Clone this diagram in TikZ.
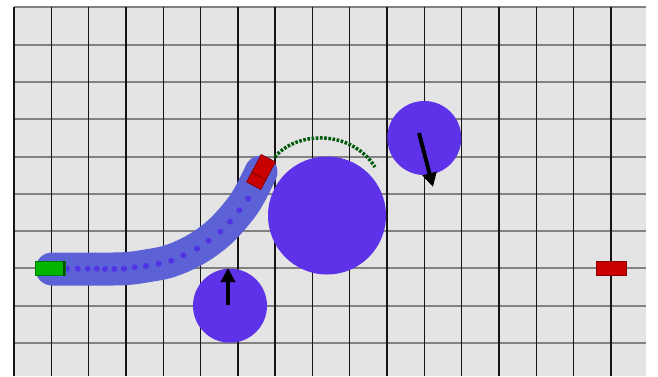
\documentclass[tikz,border=0pt]{standalone}
\usetikzlibrary{arrows.meta,calc}
\definecolor{bgc}{RGB}{228,228,228}
\definecolor{vline}{RGB}{20,20,20}
\definecolor{hline}{RGB}{130,130,130}
\definecolor{obst}{RGB}{93,50,233}
\definecolor{tubec}{RGB}{92,98,214}
\definecolor{dotc}{RGB}{80,52,228}
\definecolor{arcg}{RGB}{0,90,10}
\definecolor{carg}{RGB}{0,180,0}
\definecolor{carr}{RGB}{200,0,0}
\begin{document}
\begin{tikzpicture}[x=1pt,y=-1pt,
  obstacle/.style={fill=obst},
  bigarrow/.style={line width=4pt,-{Triangle[length=14pt,width=14pt]}},
  pathdot/.style={fill=dotc},
  carbox/.style={draw=#1!70!black,fill=#1,line width=0.8pt,minimum width=30pt,minimum height=14pt,inner sep=0pt}]
\useasboundingbox (0,0) rectangle (658,376);
\fill[bgc] (14,7.3) rectangle (646,376);
% grid
\foreach \k in {0,...,9}{
  \draw[hline,line width=2pt] (14,{7.3+37.3*\k}) -- (646,{7.3+37.3*\k});
}
\foreach \k in {0,...,16}{
  \draw[vline,line width=1.4pt] ({14+37.3*\k},7.3) -- ({14+37.3*\k},376);
}
% swept tube
\draw[tubec,line width=33pt,line cap=round,line join=round]
  plot[smooth,tension=0.6] coordinates {(52,269) (90,269) (124,268.7) (146,266) (171,260.7) (197,248.7) (220,231.7) (239.3,210.3) (250,194) (261,172)};
% path dots
\foreach \p in {(66.7,268.7),(77.7,268.7),(87.7,268.7),(96.7,268.7),(105,269),(114.3,269),(124,268.7),(134.7,267.3),(146,266),(158.7,263.7),(171.3,260.7),(183.3,255.3),(197,248.7),(208.7,240.7),(220.3,231.7),(230,221.7),(239.3,210.3),(248.3,198.7)}
  \fill[pathdot] \p circle (3);
% obstacles
\fill[obstacle] (327,215.5) circle (59);
\fill[obstacle] (424.3,138) circle (37);
\fill[obstacle] (230,305.7) circle (37);
% velocity arrows
\coordinate (a1s) at (419,133);
\coordinate (a1e) at (433,187);
\coordinate (a2s) at (228,305);
\coordinate (a2e) at (228,268);
\draw[bigarrow] (a1s) -- (a1e);
\draw[bigarrow] (a2s) -- (a2e);
% predicted arc
\coordinate (g1) at (275,157);
\coordinate (g2) at (375,167);
\draw[arcg,line width=3.5pt,dash pattern=on 2.6pt off 1.6pt] (g1) .. controls (295,132) and (350,128) .. (g2);
% cars
\node[carbox=carg] (start) at (50,268.5) {};
\fill[carg!40!black] (start.north east) rectangle ([xshift=-2pt]start.south east);
\node[carbox=carr] (goal) at (611,268.5) {};
\node[carbox=carr,rotate=62,minimum width=31pt,minimum height=16pt] (car) at (261,172) {};
\draw[carr!60!black,line width=0.7pt] ($(car.south west)!0.35!(car.south east)$) -- ($(car.north west)!0.35!(car.north east)$);
\end{tikzpicture}
\end{document}
